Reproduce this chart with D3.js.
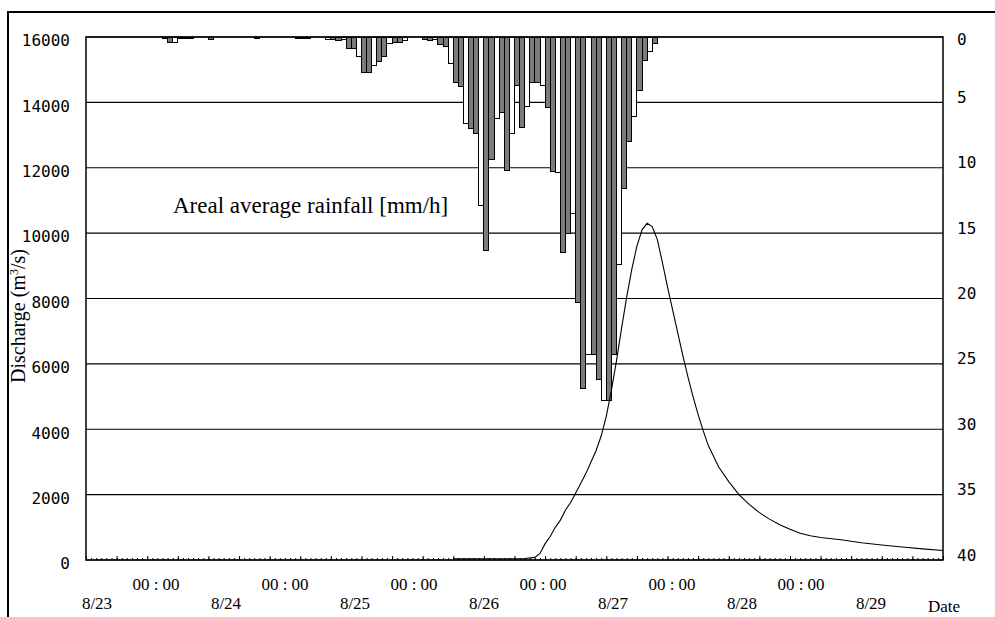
<!DOCTYPE html>
<html>
<head>
<meta charset="utf-8">
<script src="https://cdn.jsdelivr.net/npm/d3@7"></script>
<style>
body { margin: 0; background: #fff; }
.num text { font-family: "DejaVu Sans Mono", monospace; font-size: 16px; fill: #000; }
.serif { font-family: "Liberation Serif", "Times New Roman", serif; fill: #000; }
</style>
</head>
<body>
<div id="chart"></div>
<script>
// the year is not shown on the chart, only used to build dates
const START = new Date(2000, 7, 23, 0, 0);
const SPAN_HOURS = 168;

const dateLabels = ["8/23", "8/24", "8/25", "8/26", "8/27", "8/28", "8/29"];
const midnightLabel = "00 : 00";
const dischargeTicks = [0, 2000, 4000, 6000, 8000, 10000, 12000, 14000, 16000];
const rainTicks = [0, 5, 10, 15, 20, 25, 30, 35, 40];

// hourly rainfall, hours counted from 8/23 00:00 (only non-zero hours)
const rainHour = [15, 16, 17, 18, 19, 20, 24, 33, 41, 42, 43, 47, 48, 49, 50,
	51, 52, 53, 54, 55, 56, 57, 58, 59, 60, 61, 62, 66, 67, 68, 69, 70,
	71, 72, 73, 74, 75, 76, 77, 78, 79, 80, 81, 82, 83, 84, 85, 86, 87, 88, 89, 90,
	91, 92, 93, 94, 95, 96, 97, 98, 99, 100, 101, 102, 103, 104, 105, 106, 107, 108, 109, 110, 111];
const rainMm = [0.1, 0.45, 0.4, 0.1, 0.1, 0.1, 0.2, 0.1, 0.1, 0.1, 0.1, 0.2, 0.2, 0.25, 0.2,
	0.85, 0.9, 1.5, 2.7, 2.75, 2.2, 1.9, 1.5, 0.5, 0.4, 0.45, 0.3, 0.2, 0.25, 0.2, 0.55, 0.75,
	2.0, 3.45, 3.8, 6.6, 7.0, 7.35, 12.85, 16.3, 9.4, 6.2, 5.75, 10.2, 7.35, 3.7, 6.9, 5.3, 3.45, 3.5, 3.7, 5.4,
	10.3, 10.4, 16.5, 15.0, 13.5, 20.3, 26.9, 24.3, 24.3, 26.2, 27.8, 27.8, 24.3, 17.4, 11.6, 8.0, 6.1, 4.1, 1.8, 1.1, 0.5];

// discharge hydrograph
const flowHour = [72, 76, 80, 84, 86, 88, 89, 90, 91, 92, 93, 94, 95, 96, 97, 98, 99, 100,
	101, 102, 103, 104, 105, 106, 107, 108, 109, 110, 111, 112, 113, 114, 115, 116, 117, 118, 119, 120,
	121, 122, 124, 126, 128, 130, 132, 134, 136, 138, 140, 142, 144, 148, 152, 156, 160, 164, 168];
const flowQ = [40, 40, 40, 40, 45, 80, 200, 500, 720, 1000, 1220, 1530, 1760, 2050, 2350, 2650, 3000, 3350,
	3800, 4400, 5200, 6100, 7100, 8050, 8900, 9600, 10100, 10300, 10200, 9800, 9100, 8350, 7650, 6950, 6250, 5600, 5000, 4450,
	3950, 3500, 2850, 2400, 2000, 1700, 1450, 1250, 1080, 940, 820, 740, 690, 620, 530, 460, 400, 340, 290];

const W = 995, H = 617;
const plotL = 86, plotR = 943, plotT = 37, plotB = 560;

const svg = d3.select("#chart").append("svg")
	.attr("width", W)
	.attr("height", H);

// outer frame of the figure
svg.append("rect")
	.attr("x", 8).attr("y", 12)
	.attr("width", W).attr("height", H)
	.attr("fill", "none")
	.attr("stroke", "#000")
	.attr("stroke-width", 2);

const hourTime = h => d3.timeHour.offset(START, h);

const x = d3.scaleTime()
	.domain([START, hourTime(SPAN_HOURS)])
	.range([plotL, plotR]);
const yQ = d3.scaleLinear().domain([0, 16000]).range([plotB, plotT]);
const yR = d3.scaleLinear().domain([0, 40]).range([plotT, plotB]);

// horizontal grid
svg.append("g").selectAll("line")
	.data(dischargeTicks)
	.join("line")
	.attr("x1", plotL).attr("x2", plotR)
	.attr("y1", d => yQ(d)).attr("y2", d => yQ(d))
	.attr("stroke", "#000")
	.attr("stroke-width", 1.2);

// rainfall bars hanging from the top
const rain = rainHour.map((h, i) => ({ h: h, v: rainMm[i] }));
svg.append("g").selectAll("rect")
	.data(rain)
	.join("rect")
	.attr("x", d => x(hourTime(d.h)))
	.attr("width", d => x(hourTime(d.h + 1)) - x(hourTime(d.h)))
	.attr("y", yR(0))
	.attr("height", d => yR(d.v) - yR(0))
	.attr("fill", d => d.h % 3 === 2 ? "#fff" : "#7b7b7b")
	.attr("stroke", "#000")
	.attr("stroke-width", 1)
	.attr("shape-rendering", "crispEdges");

// discharge line
const flow = flowHour.map((h, i) => ({ t: hourTime(h), q: flowQ[i] }));
const line = d3.line()
	.x(d => x(d.t))
	.y(d => yQ(d.q));
svg.append("path")
	.attr("d", line(flow))
	.attr("fill", "none")
	.attr("stroke", "#000")
	.attr("stroke-width", 1.1);

// plot frame
svg.append("rect")
	.attr("x", plotL).attr("y", plotT)
	.attr("width", plotR - plotL).attr("height", plotB - plotT)
	.attr("fill", "none")
	.attr("stroke", "#000")
	.attr("stroke-width", 1.5);

// small hourly ticks on the time axis
const hourAxis = d3.axisBottom(x)
	.ticks(d3.timeHour.every(1))
	.tickSize(-2)
	.tickFormat("");
const gHour = svg.append("g")
	.attr("transform", "translate(0," + plotB + ")")
	.call(hourAxis);
gHour.select(".domain").remove();
gHour.selectAll("line").attr("stroke-width", 1);

const sixAxis = d3.axisBottom(x)
	.ticks(d3.timeHour.every(6))
	.tickSize(-4)
	.tickFormat("");
const gSix = svg.append("g")
	.attr("transform", "translate(0," + plotB + ")")
	.call(sixAxis);
gSix.select(".domain").remove();

// left axis: discharge
const gLeft = svg.append("g")
	.attr("class", "num")
	.attr("transform", "translate(" + plotL + ",0)")
	.call(d3.axisLeft(yQ).tickValues(dischargeTicks).tickFormat(d3.format("d")).tickSize(0).tickPadding(16));
gLeft.select(".domain").remove();
gLeft.selectAll("text").attr("dy", "0.55em");

// right axis: rainfall
const gRight = svg.append("g")
	.attr("class", "num")
	.attr("transform", "translate(" + plotR + ",0)")
	.call(d3.axisRight(yR).tickValues(rainTicks).tickFormat(d3.format("d")).tickSize(0).tickPadding(14));
gRight.select(".domain").remove();
gRight.selectAll("text").attr("dy", d => d === 0 ? "0.45em" : "0em");

// date labels under the axis
const labelX = d3.scalePoint().domain(dateLabels).range([97, 871]);
svg.append("g").selectAll("text")
	.data(dateLabels)
	.join("text")
	.attr("class", "serif")
	.attr("x", d => labelX(d))
	.attr("y", 609)
	.attr("text-anchor", "middle")
	.attr("font-size", 17)
	.text(d => d);

svg.append("g").selectAll("text")
	.data(dateLabels.slice(0, 6))
	.join("text")
	.attr("class", "serif")
	.attr("x", d => labelX(d) + 59)
	.attr("y", 590)
	.attr("text-anchor", "middle")
	.attr("font-size", 17)
	.text(midnightLabel);

svg.append("text")
	.attr("class", "serif")
	.attr("x", 944)
	.attr("y", 612)
	.attr("text-anchor", "middle")
	.attr("font-size", 17)
	.text("Date");

// axis title
const yTitle = svg.append("text")
	.attr("class", "serif")
	.attr("transform", "translate(25,316) rotate(-90)")
	.attr("text-anchor", "middle")
	.attr("font-size", 20);
yTitle.append("tspan").text("Discharge (m");
yTitle.append("tspan").attr("dy", -7).attr("font-size", 12).text("3");
yTitle.append("tspan").attr("dy", 7).text("/s)");

svg.append("text")
	.attr("class", "serif")
	.attr("x", 173)
	.attr("y", 213)
	.attr("font-size", 23)
	.text("Areal average rainfall [mm/h]");
</script>
</body>
</html>
